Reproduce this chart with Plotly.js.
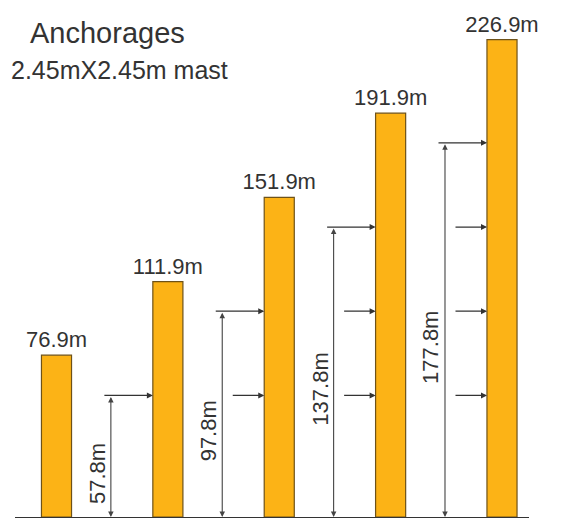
<!DOCTYPE html>
<html>
<head>
<meta charset="utf-8">
<script src="https://cdn.plot.ly/plotly-3.0.1.min.js"></script>
<style>html,body{margin:0;padding:0;background:#fff;}#chart{width:564px;height:518px;}</style>
</head>
<body>
<div id="chart"></div>
<script>
// ---- data ----
var mastHeights = [76.9, 111.9, 151.9, 191.9, 226.9];
var heightLabels = ["76.9m", "111.9m", "151.9m", "191.9m", "226.9m"];
var anchorLevels = [57.8, 97.8, 137.8, 177.8];
var anchorCounts = [0, 1, 2, 3, 4];
var topAnchorHeights = [null, 57.8, 97.8, 137.8, 177.8];
var topAnchorLabels = [null, "57.8m", "97.8m", "137.8m", "177.8m"];
var titleText = "Anchorages";
var subtitleText = "2.45mX2.45m mast";

// ---- drawing ----
var xs = mastHeights.map(function(_, i){ return i; });
var font = "Liberation Sans, Arial, sans-serif";

var trace = {
  type: "bar",
  x: xs,
  y: mastHeights,
  width: 0.27,
  text: heightLabels,
  textposition: "outside",
  constraintext: "none",
  cliponaxis: false,
  textfont: {family: font, size: 22, color: "#333"},
  marker: {color: "#FCB316", line: {color: "#6e5218", width: 1.2}},
  hoverinfo: "none"
};

var ann = [];
ann.push({xref: "paper", yref: "paper", x: 0, y: 1, xanchor: "left", yanchor: "top",
  xshift: 13, yshift: -15, text: titleText, showarrow: false,
  font: {family: font, size: 29, color: "#333"}});
ann.push({xref: "paper", yref: "paper", x: 0, y: 1, xanchor: "left", yanchor: "top",
  xshift: -6, yshift: -54, text: subtitleText, showarrow: false,
  font: {family: font, size: 25, color: "#333"}});

for (var i = 0; i < xs.length; i++) {
  var h = topAnchorHeights[i];
  if (h !== null) {
    // dimension line with arrowheads on both ends
    ann.push({x: xs[i], y: 0, ax: xs[i], ay: h, axref: "x", ayref: "y",
      xref: "x", yref: "y", text: "", showarrow: true,
      arrowside: "end+start", arrowhead: 2, arrowsize: 1, arrowwidth: 1.1,
      arrowcolor: "#444", xshift: -57});
    // rotated dimension label
    ann.push({x: xs[i], y: h / 2, xref: "x", yref: "y", text: topAnchorLabels[i],
      textangle: -90, showarrow: false, xshift: -71, yshift: -17,
      font: {family: font, size: 22, color: "#333"}});
  }
  // anchor arrows pointing into the mast
  for (var k = 0; k < anchorCounts[i]; k++) {
    var lvl = anchorLevels[k];
    var isTop = (k === anchorCounts[i] - 1);
    ann.push({x: xs[i], y: lvl, xref: "x", yref: "y", text: "", showarrow: true,
      ax: isTop ? -50 : -33, ay: 0, arrowhead: 2, arrowsize: 1, arrowwidth: 1.2,
      arrowcolor: "#333", xshift: -15});
  }
}

var layout = {
  width: 564, height: 518,
  margin: {l: 15, r: 35, t: 0, b: 1, pad: 0},
  paper_bgcolor: "#fff", plot_bgcolor: "#fff",
  showlegend: false,
  xaxis: {range: [-0.3726, 4.2425], showgrid: false, zeroline: false,
    showticklabels: false, ticks: "", showline: true, linecolor: "#333", linewidth: 1.5},
  yaxis: {range: [0, 245.7], showgrid: false, zeroline: false,
    showticklabels: false, ticks: "", showline: false},
  annotations: ann
};

Plotly.newPlot("chart", [trace], layout, {staticPlot: true});
</script>
</body>
</html>
